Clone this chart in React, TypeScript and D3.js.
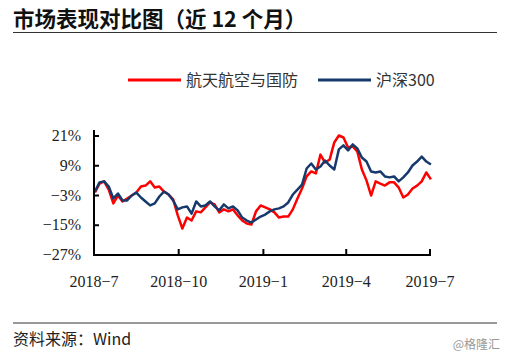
import React, { useRef, useEffect } from "react";
import * as d3 from "d3";

// one value every 5 calendar days from 2018-07-02 (%)
const startDate = new Date(2018, 6, 2);
const stepDays = 5;

const defenseValues = [
  -1.8, 1.8, 2.7, -0.6, -6.2, -3.0, -5.4, -4.2, -3.0, -1.8,
  0.6, 1.0, 2.7, 0.2, 0.6, -1.4, -2.6, -4.6, -11.0, -16.3,
  -11.9, -13.1, -9.4, -9.8, -7.8, -5.8, -6.6, -9.8, -8.6, -9.4,
  -8.6, -11.0, -13.1, -14.3, -14.7, -9.4, -7.0, -7.8, -8.6, -9.8,
  -11.9, -11.5, -11.5, -8.6, -4.2, -0.2, 4.7, 6.7, 5.9, 13.5,
  10.3, 11.5, 18.4, 21.2, 20.4, 16.4, 16.8, 14.8, 7.5, 3.1,
  -3.0, 2.7, 1.8, 1.0, 2.3, 2.3, 0.2, -3.8, -2.6, -0.2,
  1.0, 2.7, 6.3, 3.5,
];

const hs300Values = [
  -1.4, 2.3, 2.7, 0.6, -4.2, -2.2, -5.0, -5.0, -3.0, -1.8,
  -3.8, -5.4, -7.0, -6.2, -3.4, -1.4, -2.6, -5.0, -8.6, -7.8,
  -7.4, -10.3, -5.4, -7.4, -7.0, -5.4, -7.4, -9.0, -6.6, -8.2,
  -7.4, -9.0, -11.9, -13.1, -13.9, -12.7, -11.5, -10.7, -9.4, -8.6,
  -8.2, -7.4, -5.8, -2.6, -0.6, 1.4, 7.9, 9.9, 7.5, 8.7,
  11.1, 9.1, 7.5, 15.6, 17.2, 15.2, 17.6, 16.0, 12.3, 10.7,
  6.7, 6.3, 6.7, 4.7, 4.3, 4.7, 2.7, 4.3, 6.3, 9.1,
  10.7, 12.7, 10.7, 9.5,
];

const seriesNames = ["航天航空与国防", "沪深300"];
const seriesColors = ["#ff0000", "#163a6b"];
const yTicks = [21, 9, -3, -15, -27];
const xTickLabels = ["2018-7", "2018-10", "2019-1", "2019-4", "2019-7"];
const xTickDates = [
  new Date(2018, 6, 1),
  new Date(2018, 9, 1),
  new Date(2019, 0, 1),
  new Date(2019, 3, 1),
  new Date(2019, 6, 1),
];

const W = 509;
const H = 361;

const App = () => {
  const ref = useRef<SVGSVGElement>(null);

  useEffect(() => {
    const svg = d3.select(ref.current);
    svg.selectAll("*").remove();

    const x = d3
      .scaleTime()
      .domain([xTickDates[0], xTickDates[4]])
      .range([94, 430]);
    const y = d3.scaleLinear().domain([-27, 21]).range([255, 136]);

    // title
    svg
      .append("text")
      .attr("x", 13)
      .attr("y", 27)
      .attr("font-family", "'Noto Sans CJK SC', sans-serif")
      .attr("font-weight", "bold")
      .attr("font-size", 21.5)
      .attr("fill", "#111")
      .text("市场表现对比图（近 12 个月）");
    svg
      .append("line")
      .attr("x1", 13)
      .attr("x2", 497)
      .attr("y1", 32.5)
      .attr("y2", 32.5)
      .attr("stroke", "#333")
      .attr("stroke-width", 1);

    // legend
    const legendX = [128, 318];
    seriesNames.forEach((name, i) => {
      svg
        .append("line")
        .attr("x1", legendX[i])
        .attr("x2", legendX[i] + 53)
        .attr("y1", 80)
        .attr("y2", 80)
        .attr("stroke", seriesColors[i])
        .attr("stroke-width", 3);
      svg
        .append("text")
        .attr("x", legendX[i] + 58)
        .attr("y", 86)
        .attr("font-family", "'Noto Sans CJK SC', sans-serif")
        .attr("font-size", 16)
        .attr("fill", "#333")
        .text(name);
    });

    // lines
    const dates = defenseValues.map((_, i) => d3.timeDay.offset(startDate, i * stepDays));
    const line = d3
      .line<number>()
      .x((_, i) => x(dates[i]))
      .y((d) => y(d));
    [defenseValues, hs300Values].forEach((vals, i) => {
      svg
        .append("path")
        .attr("d", line(vals))
        .attr("fill", "none")
        .attr("stroke", seriesColors[i])
        .attr("stroke-width", 2.5)
        .attr("stroke-linejoin", "round");
    });

    // axes
    const axisFont = "'Liberation Serif', 'Times New Roman', serif";
    svg
      .append("line")
      .attr("x1", 94)
      .attr("x2", 94)
      .attr("y1", 130)
      .attr("y2", 255)
      .attr("stroke", "#000")
      .attr("stroke-width", 2);
    svg
      .append("line")
      .attr("x1", 93)
      .attr("x2", 431)
      .attr("y1", 255)
      .attr("y2", 255)
      .attr("stroke", "#000")
      .attr("stroke-width", 2);

    yTicks.forEach((t) => {
      svg
        .append("line")
        .attr("x1", 94)
        .attr("x2", 99)
        .attr("y1", y(t))
        .attr("y2", y(t))
        .attr("stroke", "#000")
        .attr("stroke-width", 2);
      svg
        .append("text")
        .attr("x", 81)
        .attr("y", y(t) + 5)
        .attr("text-anchor", "end")
        .attr("font-family", axisFont)
        .attr("font-size", 16)
        .attr("fill", "#222")
        .text(`${t < 0 ? "\u2212" + Math.abs(t) : t}%`);
    });

    xTickDates.forEach((d, i) => {
      svg
        .append("line")
        .attr("x1", x(d))
        .attr("x2", x(d))
        .attr("y1", 255)
        .attr("y2", 249)
        .attr("stroke", "#000")
        .attr("stroke-width", 2);
      svg
        .append("text")
        .attr("x", x(d))
        .attr("y", 287)
        .attr("text-anchor", "middle")
        .attr("font-family", axisFont)
        .attr("font-size", 16)
        .attr("fill", "#222")
        .text(xTickLabels[i].replace("-", "\u2212"));
    });

    // footer
    svg
      .append("line")
      .attr("x1", 13)
      .attr("x2", 497)
      .attr("y1", 323)
      .attr("y2", 323)
      .attr("stroke", "#333")
      .attr("stroke-width", 1);
    svg
      .append("text")
      .attr("x", 13)
      .attr("y", 345)
      .attr("font-family", "'Noto Sans CJK SC', sans-serif")
      .attr("font-size", 16)
      .attr("fill", "#222")
      .text("资料来源：Wind");
    svg
      .append("text")
      .attr("x", 500)
      .attr("y", 349)
      .attr("text-anchor", "end")
      .attr("font-family", "'Noto Sans CJK SC', sans-serif")
      .attr("font-size", 12)
      .attr("fill", "#999")
      .text("@格隆汇");
  }, []);

  return (
    <svg
      ref={ref}
      width={W}
      height={H}
      style={{ position: "absolute", left: 0, top: 0, background: "#fff" }}
    />
  );
};

export default App;
